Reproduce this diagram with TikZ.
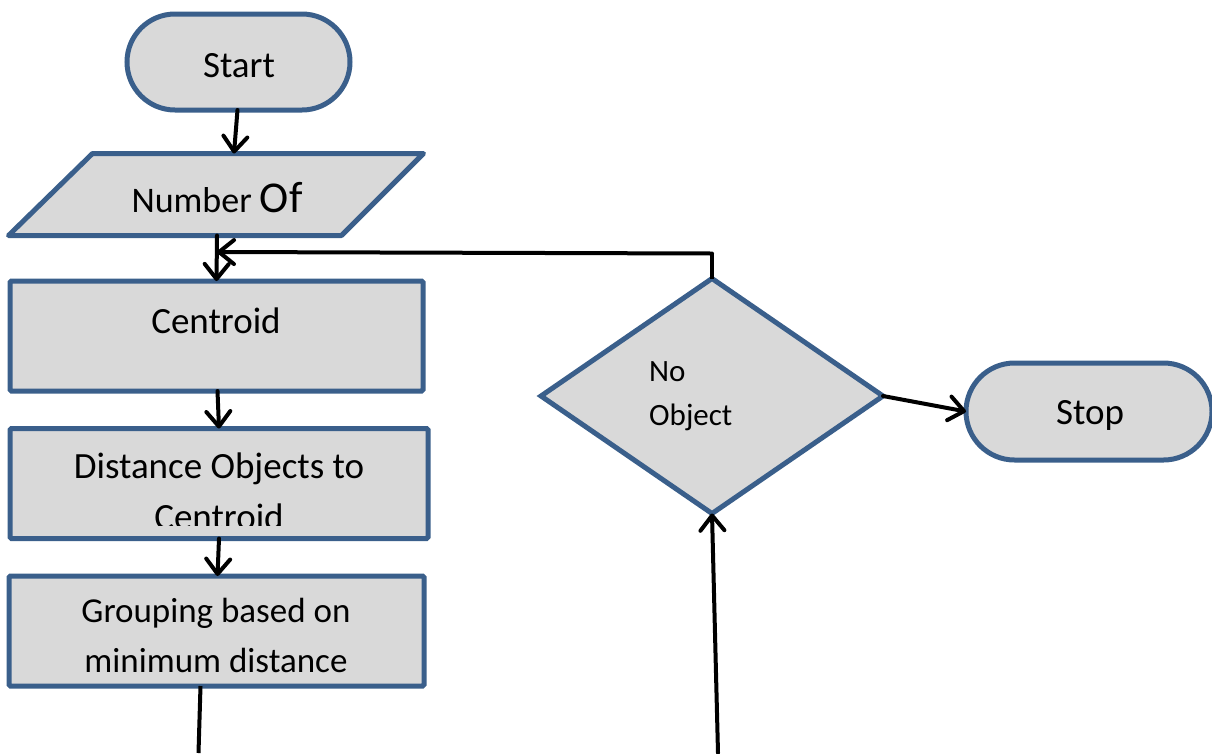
\documentclass[tikz,border=0pt]{standalone}
\usepackage{fontspec}
\setmainfont{Carlito}
\usetikzlibrary{shapes.geometric,shapes.misc,arrows.meta,calc}
\definecolor{bordblue}{RGB}{58,95,139}
\definecolor{boxfill}{RGB}{217,217,217}
\begin{document}
\begin{tikzpicture}[x=1pt,y=-1pt,
  shp/.style={draw=bordblue,fill=boxfill,line width=5pt,inner sep=0pt,outer sep=0pt},
  term/.style={shp,rounded rectangle},
  procbox/.style={shp,rectangle,rounded corners=1.5pt},
  txt/.style={font=\fontsize{37}{50}\selectfont,inner sep=0pt,align=center},
  grptxt/.style={font=\fontsize{35}{50}\selectfont,inner sep=0pt,align=center},
  smalltxt/.style={font=\fontsize{31}{44}\selectfont,inner sep=0pt,align=left},
  arr/.style={line width=4pt,draw=black,line cap=round,-{Straight Barb[length=15pt,width=24pt,line width=4pt,round]}},
  ln/.style={line width=4pt,draw=black}]
\useasboundingbox (0,0) rectangle (1212,753);

% shapes
\node[term,minimum width=223pt,minimum height=96pt] (start) at (238.5,62) {};
\node[txt] (starttxt) at (239,66) {Start};

\node[rectangle,inner sep=0pt,outer sep=0pt,minimum width=331pt,minimum height=82pt] (num) at (216,194.5) {};
\filldraw[draw=bordblue,fill=boxfill,line width=5pt,line join=round]
  ($(num.north west)+(42,0)$) -- ($(num.north east)+(42,0)$) -- ($(num.south east)+(-40,0)$)
  -- ($(num.south west)+(-42,0)$) -- cycle;
\node[font=\fontsize{36}{50}\selectfont,inner sep=0pt,anchor=base] (numtxt) at (217,212) {Number {\fontsize{44}{50}\selectfont Of}};

\node[procbox,minimum width=413pt,minimum height=110pt] (cent) at (216.5,336) {};
\node[txt] (centtxt) at (216,321) {Centroid};

\node[procbox,minimum width=418pt,minimum height=110pt] (dist) at (219,483.5) {};
\begin{scope}
  \clip (20,440) rectangle (420,525);
  \node[txt,anchor=base] (disttxt1) at (219,478) {Distance Objects to};
  \node[txt,anchor=base] (disttxt2) at (219,529) {Centroid};
\end{scope}

\node[procbox,minimum width=415pt,minimum height=110pt] (grp) at (216.5,631) {};
\node[grptxt,anchor=base] (grptxt1) at (216,622) {Grouping based on};
\node[grptxt,anchor=base] (grptxt2) at (216,672) {minimum distance};

\node[shp,diamond,minimum width=342pt,minimum height=235pt] (dia) at (712,396) {};
\node[smalltxt,anchor=base west] (diatxt1) at (649,381) {No};
\node[smalltxt,anchor=base west] (diatxt2) at (649,425) {Object};

\node[term,minimum width=246pt,minimum height=97pt] (stop) at (1089,411.5) {};
\node[txt] (stoptxt) at (1090,415) {Stop};

% connectors
\draw[arr] ($(start.south)+(-1,0)$) -- ($(num.north)+(18,0)$);
\coordinate (join) at (217,252);
\draw[arr] ($(num.south)+(1,0)$) -- (cent.north);
\draw[arr] ($(cent.south)+(1,0)$) -- ($(dist.north)+(0,0)$);
\draw[arr] (dist.south) -- ($(grp.north)+(1,0)$);
\draw[ln] ($(grp.south)+(-16,0)$) -- ($(grp.south)+(-18,67)$) coordinate (gend);
\coordinate (bstart) at (718,753);
\draw[arr] (bstart) -- (dia.south);
\draw[ln] (dia.north) -- ($(dia.north)+(0,-25)$) coordinate (corner);
\draw[arr] (corner) -- (join);
\draw[arr] (dia.east) -- (stop.west);
\end{tikzpicture}
\end{document}
